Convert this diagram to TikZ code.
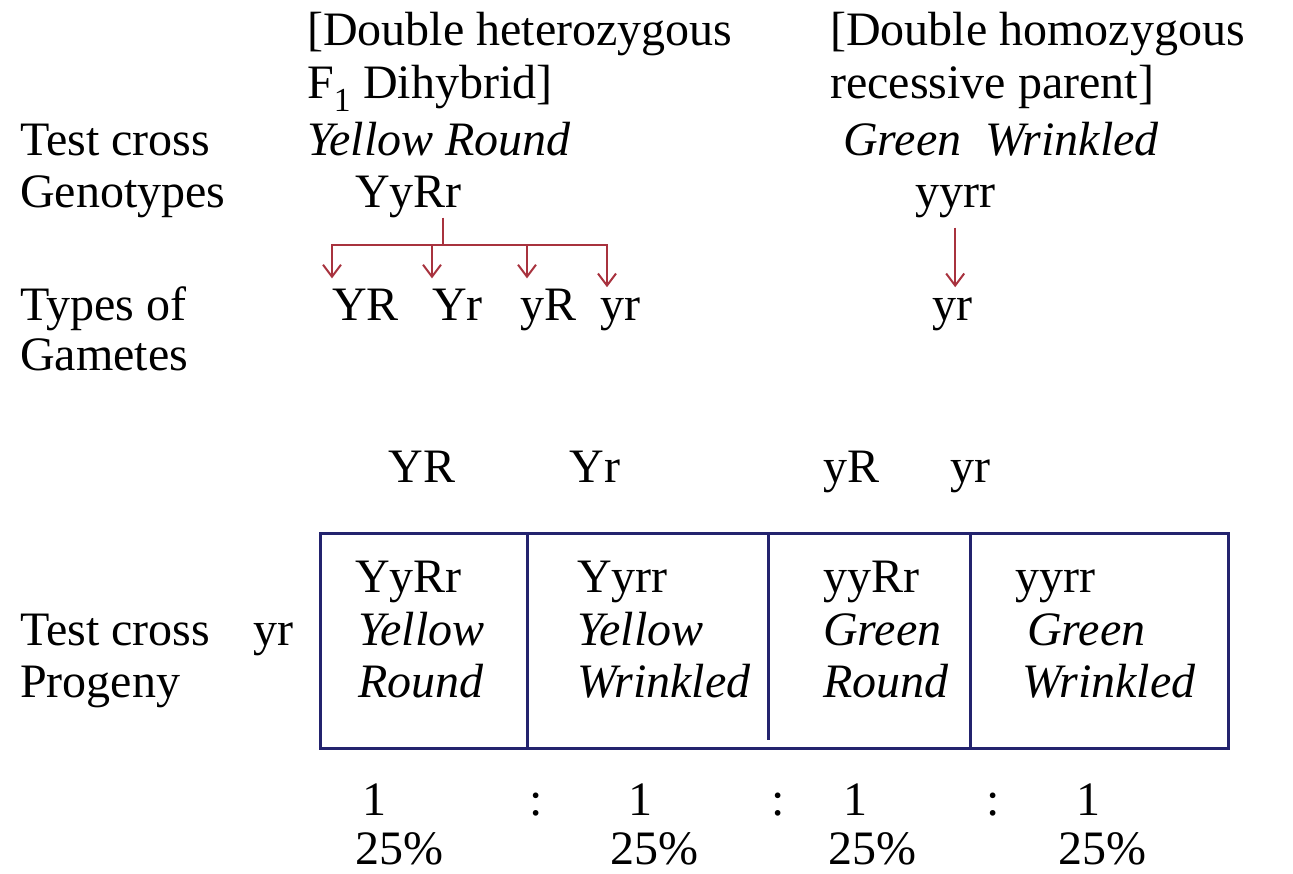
\documentclass[tikz,border=0pt]{standalone}
\usepackage{fontspec}
\setmainfont{Liberation Serif}
\usepackage{xcolor}
\usetikzlibrary{positioning,arrows.meta}
\definecolor{crossred}{HTML}{A8323E}
\definecolor{gridblue}{HTML}{23236E}

\begin{document}
\begin{tikzpicture}[x=1pt, y=-1pt,
  every node/.style={inner sep=0pt, font=\fontsize{48}{52}\selectfont},
  lbl/.style={anchor=base west},
  cnt/.style={anchor=base},
  arr/.style={draw=crossred, line width=2.2pt, -{Straight Barb[length=12pt, width=18pt, line width=2pt]}},
  tab/.style={draw=gridblue, line width=3pt}]
\useasboundingbox (0,0) rectangle (1293,873);
% row labels
\node[lbl] (tc)   at (20,155) {Test cross};
\node[lbl] (gt)   at (20,207) {Genotypes};
\node[lbl] (tg1)  at (20,320) {Types of};
\node[lbl] (tg2)  at (20,370) {Gametes};
\node[lbl] (tp1)  at (20,645) {Test cross};
\node[lbl] (tp2)  at (20,697) {Progeny};
\node[lbl] (tpg)  at (253,645) {yr};
% parents
\node[lbl] (p1a)  at (307,45)  {[Double heterozygous};
\node[lbl] (p1b)  at (307,98)  {F\textsubscript{1} Dihybrid]};
\node[lbl] (p1c)  at (307,155) {\itshape Yellow Round};
\node[lbl] (p1g)  at (355,207) {YyRr};
\node[lbl] (p2a)  at (830,45)  {[Double homozygous};
\node[lbl] (p2b)  at (830,98)  {recessive parent]};
\node[lbl] (p2c)  at (843,155) {\itshape Green\ \ Wrinkled};
\node[lbl] (p2g)  at (915,207) {yyrr};
% gametes
\node[lbl] (gYR)  at (332,320) {YR};
\node[lbl] (gYr)  at (432,320) {Yr};
\node[lbl] (gyR)  at (520,320) {yR};
\node[lbl] (gyr)  at (600,320) {yr};
\node[lbl] (g2yr) at (932,320) {yr};
\coordinate (split) at (443,245);
\draw[crossred, line width=2.2pt] (p1g.south -| split) -- (split);
\draw[arr] (split) -| ([yshift=10pt]gYR.north west);
\draw[arr] (split) -| ([yshift=10pt]gYr.north west);
\draw[arr] (split) -| ([xshift=7pt, yshift=10pt]gyR.north west);
\draw[arr] (split) -| ([xshift=7pt, yshift=10pt]gyr.north west);
\draw[arr, shorten <=10pt] (p2g.south) -- ([yshift=10pt]g2yr.north -| p2g.south);
% gametes above the table
\node[cnt] (hYR) at (422,482) {YR};
\node[cnt] (hYr) at (595,482) {Yr};
\node[cnt] (hyR) at (851,482) {yR};
\node[cnt] (hyr) at (970,482) {yr};
% progeny table
\draw[tab] (320,533) rectangle (1228,748);
\draw[tab] (527,533) -- (527,748);
\draw[tab] (768,533) -- (768,740);
\draw[tab] (970,533) -- (970,748);
\node[lbl] (c1a) at (355,592) {YyRr};
\node[lbl] (c1b) at (358,645) {\itshape Yellow};
\node[lbl] (c1c) at (358,697) {\itshape Round};
\node[lbl] (c2a) at (577,592) {Yyrr};
\node[lbl] (c2b) at (577,645) {\itshape Yellow};
\node[lbl] (c2c) at (577,697) {\itshape Wrinkled};
\node[lbl] (c3a) at (823,592) {yyRr};
\node[lbl] (c3b) at (823,645) {\itshape Green};
\node[lbl] (c3c) at (823,697) {\itshape Round};
\node[lbl] (c4a) at (1015,592) {yyrr};
\node[lbl] (c4b) at (1027,645) {\itshape Green};
\node[lbl] (c4c) at (1022,697) {\itshape Wrinkled};
% ratio
\node[cnt] (r1) at (374,815) {1};
\node[cnt] (k1) at (536,815) {:};
\node[cnt] (r2) at (640,815) {1};
\node[cnt] (k2) at (778,815) {:};
\node[cnt] (r3) at (855,815) {1};
\node[cnt] (k3) at (993,815) {:};
\node[cnt] (r4) at (1088,815) {1};
\node[lbl] (q1) at (355,864) {25\%};
\node[lbl] (q2) at (610,864) {25\%};
\node[lbl] (q3) at (828,864) {25\%};
\node[lbl] (q4) at (1058,864) {25\%};
\end{tikzpicture}
\end{document}
